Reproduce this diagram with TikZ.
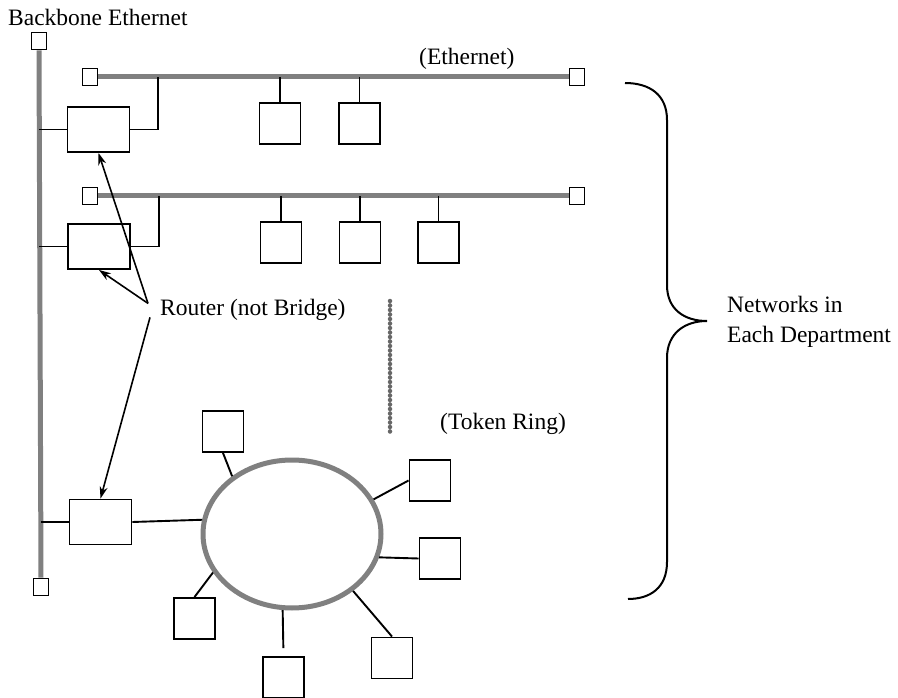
\documentclass[tikz,border=0pt]{standalone}
\usepackage{fontspec}
\setmainfont{Liberation Serif}
\usetikzlibrary{shapes.geometric, arrows.meta, positioning}
\definecolor{cablegray}{RGB}{128,128,128}

\begin{document}
\begin{tikzpicture}[
    x=1pt, y=-1pt,
    every node/.style={font=\fontsize{23.5}{30}\selectfont},
    host/.style={
      rectangle,
      draw,
      line width=1.9pt,
      minimum width=41pt,
      minimum height=41pt,
      inner sep=0pt
    },
    router/.style={
      rectangle,
      draw,
      line width=1.9pt,
      minimum width=62pt,
      minimum height=45pt,
      inner sep=0pt
    },
    term/.style={
      rectangle,
      draw,
      line width=1.6pt,
      minimum width=15pt,
      minimum height=17pt,
      inner sep=0pt
    },
    ring/.style={
      ellipse,
      draw=cablegray,
      line width=5pt,
      minimum width=178pt,
      minimum height=148pt,
      inner sep=0pt
    },
    cable/.style={cablegray, line width=5pt},
    tap/.style={line width=1.9pt},
    chain/.style={
      cablegray!80!black,
      line width=4.5pt,
      line cap=round,
      dash pattern=on 0pt off 4.5pt
    },
    arrow/.style={
      -{Stealth[length=12pt, width=8pt, fill=cablegray]},
      line width=1.6pt
    },
    tag/.style={inner sep=0pt}
  ]
  \useasboundingbox (0,0) rectangle (898,698);

  % Backbone
  \node[tag, anchor=base west] (bbtext) at (8,26) {Backbone Ethernet};
  \node[term] (bbtop) at (39,41) {};
  \node[term] (bbbot) at (41,587) {};
  \draw[cable] (bbtop.south) -- (bbbot.north);

  % Department Ethernets
  \node[term] (e1l) at (90,77) {};
  \node[term] (e1r) at (577,77) {};
  \draw[cable] (e1l.east) -- (e1r.west);
  \node[tag, anchor=base west] (ethtext) at (419,65) {(Ethernet)};

  \node[term] (e2l) at (90,196) {};
  \node[term] (e2r) at (577,196) {};
  \draw[cable] (e2l.east) -- (e2r.west);

  % Routers
  \node[router] (r1) at (98.5,129.5) {};
  \node[router] (r2) at (99,246.5) {};
  \node[router] (r3) at (100.5,522) {};

  \draw[tap] (r1.west) -- (r1.west -| bbtop.center);
  \draw[tap] (r2.west) -- (r2.west -| bbtop.center);
  \draw[tap] (r3.west) -- (r3.west -| bbbot.center);

  \coordinate (j1) at (158,77);
  \coordinate (j2) at (159,196);
  \draw[tap] (r1.east) -| (j1);
  \draw[tap] (r2.east) -| (j2);

  % Hosts on the Ethernets
  \node[host] (h11) at (280,123.5) {};
  \node[host] (h12) at (359.5,123.5) {};
  \node[host] (h21) at (281,242.5) {};
  \node[host] (h22) at (360,242.5) {};
  \node[host] (h23) at (438.5,242.5) {};

  \draw[tap] (h11.north) -- (h11.north |- e1l.center);
  \draw[tap] (h12.north) -- (h12.north |- e1l.center);
  \draw[tap] (h21.north) -- (h21.north |- e2l.center);
  \draw[tap] (h22.north) -- (h22.north |- e2l.center);
  \draw[tap] (h23.north) -- (h23.north |- e2l.center);

  % More departments
  \draw[chain] (390,301) -- (390,432);

  % Token ring
  \node[ring] (ring) at (292,534) {};
  \node[tag, anchor=base west] (trtext) at (440,429) {(Token Ring)};

  \node[host] (hr1) at (223,431.5) {};
  \node[host] (hr2) at (430,480.5) {};
  \node[host] (hr3) at (440,558.5) {};
  \node[host] (hr4) at (392,658) {};
  \node[host] (hr5) at (283.5,677.5) {};
  \node[host] (hr6) at (194.5,618.5) {};

  \draw[tap] (r3.east) -- (ring.171);
  \draw[tap] (ring.136) -- (hr1.south);
  \draw[tap] (ring.23) -- (hr2.west);
  \draw[tap] (ring.-15) -- (hr3.west);
  \draw[tap] (ring.-43) -- (hr4.north);
  \draw[tap, shorten >=8pt] (ring.-97) -- (hr5.north);
  \draw[tap] (ring.206) -- (hr6.north);

  % Router label
  \node[tag, anchor=base west] (rt) at (160,315) {Router (not Bridge)};
  \coordinate (fu) at ([shift={(-12pt,6pt)}]rt.west);
  \coordinate (fd) at ([shift={(-10pt,-8pt)}]rt.west);
  \draw[arrow] (fu) -- (r1.south);
  \draw[arrow] (fu) -- (r2.south);
  \draw[arrow] (fd) -- (r3.north);

  % Brace
  \draw[line width=2pt] (625,83) .. controls (650,83) and (667,95) .. (667,120)
    -- (667,285) .. controls (667,310) and (685,321) .. (707,321)
    .. controls (685,321) and (667,333) .. (667,358)
    -- (667,562) .. controls (667,588) and (650,599) .. (628,599);
  \node[tag, anchor=west, align=left] (dept) at (727,322) {Networks in\\Each Department};

\end{tikzpicture}
\end{document}
